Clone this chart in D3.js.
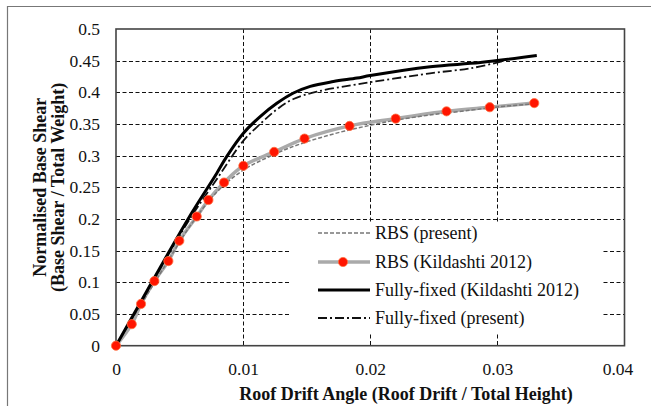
<!DOCTYPE html>
<html><head><meta charset="utf-8">
<script src="https://cdn.jsdelivr.net/npm/d3@7/dist/d3.min.js"></script>
<style>body{margin:0;background:#fff}svg{display:block}</style>
</head><body>
<svg id="c" width="651" height="406"></svg>
<script>
const xTicks = [0, 0.01, 0.02, 0.03, 0.04];
const yTicks = [0, 0.05, 0.1, 0.15, 0.2, 0.25, 0.3, 0.35, 0.4, 0.45, 0.5];
const xTickLabels = ["0", "0.01", "0.02", "0.03", "0.04"];
const yTickLabels = ["0", "0.05", "0.1", "0.15", "0.2", "0.25", "0.3", "0.35", "0.4", "0.45", "0.5"];

// RBS (Kildashti 2012) - grey line with red markers
const rbsKX = [0, 0.00124, 0.00197, 0.00302, 0.00412, 0.00498, 0.00635, 0.00727, 0.0085, 0.01002, 0.01244, 0.01483, 0.01837, 0.0220, 0.0260, 0.0294, 0.0329];
const rbsKY = [0, 0.034, 0.066, 0.102, 0.1336, 0.1656, 0.204, 0.230, 0.2576, 0.284, 0.306, 0.327, 0.347, 0.3585, 0.370, 0.3765, 0.383];
// RBS (present) - grey dashed
const rbsPX = [0, 0.002, 0.004, 0.006, 0.008, 0.010, 0.012, 0.014, 0.016, 0.018, 0.020, 0.022, 0.025, 0.028, 0.030, 0.033];
const rbsPY = [0, 0.066, 0.131, 0.194, 0.244, 0.277, 0.298, 0.315, 0.328, 0.339, 0.348, 0.356, 0.365, 0.372, 0.377, 0.382];
// Fully-fixed (Kildashti 2012) - black solid
const ffKX = [0, 0.002, 0.004, 0.006, 0.00793, 0.00872, 0.01002, 0.01134, 0.01265, 0.01396, 0.01528, 0.0171, 0.01895, 0.02, 0.02472, 0.02866, 0.0331];
const ffKY = [0, 0.071, 0.142, 0.211, 0.2724, 0.299, 0.3355, 0.3617, 0.3827, 0.399, 0.4095, 0.417, 0.4225, 0.4265, 0.4405, 0.447, 0.458];
// Fully-fixed (present) - black dash-dot
const ffPX = [0, 0.002, 0.004, 0.006, 0.008, 0.010, 0.01134, 0.01265, 0.01396, 0.0158, 0.01895, 0.0247, 0.0279, 0.0305];
const ffPY = [0, 0.070, 0.140, 0.206, 0.265, 0.323, 0.350, 0.373, 0.3895, 0.401, 0.4125, 0.430, 0.438, 0.4495];

const legendLabels = ["RBS (present)", "RBS (Kildashti 2012)", "Fully-fixed (Kildashti 2012)", "Fully-fixed (present)"];

const svg = d3.select("#c");
const FONT = "'Liberation Serif','Times New Roman',serif";
const x = d3.scaleLinear().domain([0, 0.04]).range([116, 624.5]);
const y = d3.scaleLinear().domain([0, 0.5]).range([345.7, 29]);

// outer frame (left and top)
svg.append("path").attr("d", "M7.5,406 L7.5,6.5 L651,6.5").attr("fill", "none").attr("stroke", "#777").attr("stroke-width", 1.2);

// gridlines
const grid = svg.append("g");
grid.selectAll("line.h").data(yTicks.filter(v => v > 0 && v < 0.5)).join("line")
  .attr("x1", x(0)).attr("x2", x(0.04)).attr("y1", d => Math.round(y(d)) + 0.5).attr("y2", d => Math.round(y(d)) + 0.5)
  .attr("stroke", "#111").attr("stroke-width", 1).attr("stroke-dasharray", "4,2.5");
grid.selectAll("line.v").data(xTicks.filter(v => v > 0 && v < 0.04)).join("line")
  .attr("x1", d => Math.round(x(d)) + 0.5).attr("x2", d => Math.round(x(d)) + 0.5).attr("y1", y(0.5)).attr("y2", y(0))
  .attr("stroke", "#111").attr("stroke-width", 1).attr("stroke-dasharray", "4,2.5");

// legend background box (covers gridlines)
svg.append("rect").attr("x", 290).attr("y", 222).attr("width", 313).attr("height", 111).attr("fill", "#fff");

// plot frame
svg.append("rect").attr("x", x(0)).attr("y", y(0.5)).attr("width", x(0.04) - x(0)).attr("height", y(0) - y(0.5))
  .attr("fill", "none").attr("stroke", "#444").attr("stroke-width", 1.6);

// axes
const xAxis = d3.axisBottom(x).tickValues(xTicks).tickFormat((d, i) => xTickLabels[i]).tickSize(0).tickPadding(17);
const gx = svg.append("g").attr("transform", `translate(0,${y(0)})`).call(xAxis);
gx.select(".domain").remove();
gx.selectAll("text").attr("font-family", FONT).attr("font-size", 17.5).attr("fill", "#111")
  .attr("dx", d => d === 0.04 ? -7 : 0);
const yAxis = d3.axisLeft(y).tickValues(yTicks).tickFormat((d, i) => yTickLabels[i]).tickSize(0).tickPadding(16);
const gy = svg.append("g").attr("transform", `translate(${x(0)},0)`).call(yAxis);
gy.select(".domain").remove();
gy.selectAll("text").attr("font-family", FONT).attr("font-size", 17.5).attr("fill", "#111");

// series
const line = d3.line().x(d => x(d[0])).y(d => y(d[1])).curve(d3.curveCatmullRom.alpha(0.5));
const zip = (a, b) => a.map((v, i) => [v, b[i]]);

svg.append("path").datum(zip(rbsKX, rbsKY)).attr("d", line).attr("fill", "none")
  .attr("stroke", "#aaaaaa").attr("stroke-width", 3.5);
svg.append("path").datum(zip(rbsPX, rbsPY)).attr("d", line).attr("fill", "none")
  .attr("stroke", "#777").attr("stroke-width", 1.5).attr("stroke-dasharray", "4,2");
svg.append("path").datum(zip(ffPX, ffPY)).attr("d", line).attr("fill", "none")
  .attr("stroke", "#111").attr("stroke-width", 1.8).attr("stroke-dasharray", "9,3,2,3");
svg.append("path").datum(zip(ffKX, ffKY)).attr("d", line).attr("fill", "none")
  .attr("stroke", "#000").attr("stroke-width", 3);
svg.append("g").selectAll("circle").data(zip(rbsKX, rbsKY)).join("circle")
  .attr("cx", d => x(d[0])).attr("cy", d => y(d[1])).attr("r", 4.6)
  .attr("fill", "#ff1500").attr("stroke", "#ff7040").attr("stroke-width", 0.8);

// legend
const ly = [233, 262, 290, 318];
const lg = svg.append("g");
lg.append("line").attr("x1", 318).attr("x2", 370).attr("y1", ly[0]).attr("y2", ly[0])
  .attr("stroke", "#777").attr("stroke-width", 1.5).attr("stroke-dasharray", "4,2");
lg.append("line").attr("x1", 318).attr("x2", 370).attr("y1", ly[1]).attr("y2", ly[1])
  .attr("stroke", "#aaaaaa").attr("stroke-width", 3.5);
lg.append("circle").attr("cx", 343).attr("cy", ly[1]).attr("r", 4.6).attr("fill", "#ff1500").attr("stroke", "#ff7040").attr("stroke-width", 0.8);
lg.append("line").attr("x1", 318).attr("x2", 370).attr("y1", ly[2]).attr("y2", ly[2])
  .attr("stroke", "#000").attr("stroke-width", 3);
lg.append("line").attr("x1", 318).attr("x2", 370).attr("y1", ly[3]).attr("y2", ly[3])
  .attr("stroke", "#111").attr("stroke-width", 1.8).attr("stroke-dasharray", "9,3,2,3");
lg.selectAll("text").data(legendLabels).join("text")
  .attr("x", 375).attr("y", (d, i) => ly[i] + 6).text(d => d)
  .attr("font-family", FONT).attr("font-size", 18).attr("fill", "#111");

// axis titles
svg.append("text").attr("x", 406).attr("y", 400).attr("text-anchor", "middle")
  .attr("font-family", FONT).attr("font-size", 18).attr("font-weight", "bold").attr("fill", "#111")
  .text("Roof Drift Angle (Roof Drift / Total Height)");
const yt = svg.append("g").attr("transform", `translate(0,${(y(0) + y(0.5)) / 2}) rotate(-90)`);
yt.append("text").attr("x", 0).attr("y", 46).attr("text-anchor", "middle")
  .attr("font-family", FONT).attr("font-size", 18).attr("font-weight", "bold").attr("fill", "#111")
  .text("Normalised Base Shear");
yt.append("text").attr("x", 0).attr("y", 64).attr("text-anchor", "middle")
  .attr("font-family", FONT).attr("font-size", 18).attr("font-weight", "bold").attr("fill", "#111")
  .text("(Base Shear / Total Weight)");
</script>
</body></html>
